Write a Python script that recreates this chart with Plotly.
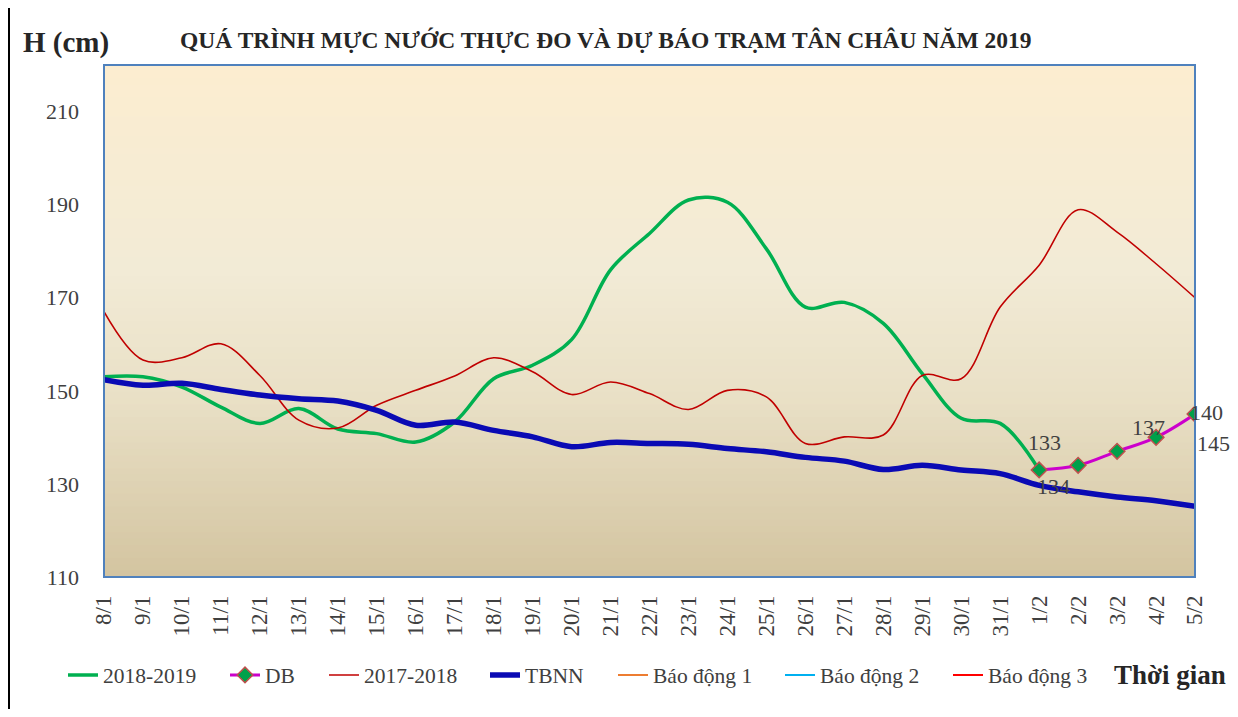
import plotly.graph_objects as go

dates = ["8/1", "9/1", "10/1", "11/1", "12/1", "13/1", "14/1", "15/1", "16/1", "17/1",
         "18/1", "19/1", "20/1", "21/1", "22/1", "23/1", "24/1", "25/1", "26/1", "27/1",
         "28/1", "29/1", "30/1", "31/1", "1/2", "2/2", "3/2", "4/2", "5/2"]

h_2018_2019 = [153, 153, 150.8, 146.5, 143, 146.2, 141.8, 140.8, 139, 143.3,
               152.6, 155.5, 161, 176, 183.8, 191, 190.5, 180.5, 168, 169,
               164.5, 153.7, 144.1, 143, 133]

db_dates = ["1/2", "2/2", "3/2", "4/2", "5/2"]
db_values = [133, 134, 137, 140, 145]

h_2017_2018 = [167, 156.6, 157.1, 160.1, 153.3, 143.7, 142, 146.9, 150.1, 153.2,
               157.1, 154.1, 149.2, 151.9, 149.4, 146, 150.1, 148.7, 138.7, 140.1,
               140.5, 153.3, 152.6, 168, 177, 188.9, 184.1, 177.3, 170]

tbnn = [152.4, 151.2, 151.6, 150.3, 149.1, 148.3, 147.8, 145.8, 142.6, 143.3,
        141.5, 140.1, 138, 138.9, 138.7, 138.5, 137.6, 136.9, 135.7, 134.9,
        133.1, 134, 133, 132.2, 129.7, 128.3, 127.2, 126.4, 125.2]

# Alarm levels (cm) – above the shown range
alarm_names = ["Báo động 1", "Báo động 2", "Báo động 3"]
alarm_levels = [350, 400, 450]
alarm_colors = ["#ED7D31", "#00B0F0", "#FF0000"]

y_range = [110, 220]
y_ticks = [110, 130, 150, 170, 190, 210]

serif = "Liberation Serif, Times New Roman, serif"
txt = "#404040"

# page-pixel geometry of plot area (page has an 8px body margin)
PL, PR, PT, PB = 104, 1195, 65, 577
PW, PH = PR - PL, PB - PT
OFF = 8
FW, FH = 1222, 701

def px(x):
    return (x - PL) / PW

def py(y):
    return (PB - y) / PH

fig = go.Figure()

legend_text_x = [105, 267, 366, 527, 655, 822, 990]

fig.add_trace(go.Scatter(x=dates[:len(h_2018_2019)], y=h_2018_2019, name="2018-2019",
                         mode="lines", line=dict(color="#00B050", width=3.5, shape="spline"),
                         legend="legend"))
fig.add_trace(go.Scatter(x=db_dates, y=db_values, name="DB", mode="lines+markers",
                         line=dict(color="#CC00CC", width=3, shape="spline"),
                         marker=dict(symbol="diamond", size=12, color="#00A04A",
                                     line=dict(color="#C0504D", width=1.5)),
                         legend="legend2"))
fig.add_trace(go.Scatter(x=dates, y=h_2017_2018, name="2017-2018", mode="lines",
                         line=dict(color="#C00000", width=1.6, shape="spline"),
                         legend="legend3"))
fig.add_trace(go.Scatter(x=dates, y=tbnn, name="TBNN", mode="lines",
                         line=dict(color="#0A0AB4", width=5.5, shape="spline"),
                         legend="legend4"))
for i, (nm, lv, col) in enumerate(zip(alarm_names, alarm_levels, alarm_colors)):
    fig.add_trace(go.Scatter(x=[dates[0], dates[-1]], y=[lv, lv], name=nm, mode="lines",
                             line=dict(color=col, width=2), legend="legend%d" % (5 + i)))

# DB data labels, offset like the original
label_offsets = [(5, 27), (-25, -21), (31, 24), (50, 25), (18, -29)]
for d, v, (dx, dy) in zip(db_dates, db_values, label_offsets):
    fig.add_annotation(x=d, y=v, text=str(v), showarrow=False, xshift=dx, yshift=dy,
                       font=dict(family=serif, size=22, color=txt))

# gradient background bands
stops = [(0.0, (211, 196, 160)), (0.35, (233, 224, 198)), (0.6, (242, 235, 214)), (1.0, (252, 237, 208))]
def col_at(t):
    for (t0, c0), (t1, c1) in zip(stops[:-1], stops[1:]):
        if t0 <= t <= t1:
            f = (t - t0) / (t1 - t0)
            return "rgb(%d,%d,%d)" % tuple(round(a + (b - a) * f) for a, b in zip(c0, c1))
    return "rgb(%d,%d,%d)" % stops[-1][1]

n = 80
shapes = []
for i in range(n):
    shapes.append(dict(type="rect", xref="paper", yref="paper", x0=0, x1=1, y0=i / n, y1=(i + 1) / n + 0.002,
                       fillcolor=col_at((i + 0.5) / n), line=dict(width=0), layer="below"))
shapes.append(dict(type="rect", xref="paper", yref="paper", x0=0, x1=1, y0=0, y1=1,
                   line=dict(color="#4F81BD", width=2), layer="above"))
# outer frame left edge
shapes.append(dict(type="line", xref="paper", yref="paper", x0=px(9), x1=px(9),
                   y0=py(FH + OFF), y1=py(OFF), line=dict(color="black", width=2)))

legends = {}
for i, tx in enumerate(legend_text_x):
    key = "legend" if i == 0 else "legend%d" % (i + 1)
    legends[key] = dict(orientation="h", x=px(tx - 42), y=py(675), xanchor="left", yanchor="middle",
                        font=dict(family=serif, size=21.5, color=txt),
                        bgcolor="rgba(0,0,0,0)", borderwidth=0)

fig.update_layout(
    width=FW, height=FH,
    margin=dict(l=PL - OFF, r=FW - (PR - OFF), t=PT - OFF, b=FH - (PB - OFF), pad=0),
    paper_bgcolor="white", plot_bgcolor="rgba(0,0,0,0)",
    shapes=shapes,
    showlegend=True,
    font=dict(family=serif, color=txt),
    **legends,
)
fig.update_xaxes(type="category", categoryorder="array", categoryarray=dates,
                 tickangle=-90, tickfont=dict(family=serif, size=23, color=txt),
                 showgrid=False, zeroline=False, showline=False, ticks="",
                 range=[0, len(dates) - 1], ticklabelstandoff=13)
fig.update_yaxes(range=y_range, tickvals=y_ticks, tickfont=dict(family=serif, size=22, color=txt),
                 showgrid=False, zeroline=False, showline=False, ticks="", ticklabelstandoff=24)

fig.add_annotation(text="<b>QUÁ TRÌNH MỰC NƯỚC THỰC ĐO VÀ DỰ BÁO TRẠM TÂN CHÂU NĂM 2019</b>",
                   xref="paper", yref="paper", x=px(605), y=py(40), yanchor="middle",
                   showarrow=False, font=dict(family=serif, size=23.5, color="#262626"))
fig.add_annotation(text="<b>H (cm)</b>", xref="paper", yref="paper",
                   x=px(21), y=py(42), xanchor="left", yanchor="middle",
                   showarrow=False, font=dict(family=serif, size=29, color="#262626"))
fig.add_annotation(text="<b>Thời gian</b>", xref="paper", yref="paper",
                   x=px(1228), y=py(675), xanchor="right", yanchor="middle",
                   showarrow=False, font=dict(family=serif, size=27, color="#262626"))

fig.write_html("out.html")
